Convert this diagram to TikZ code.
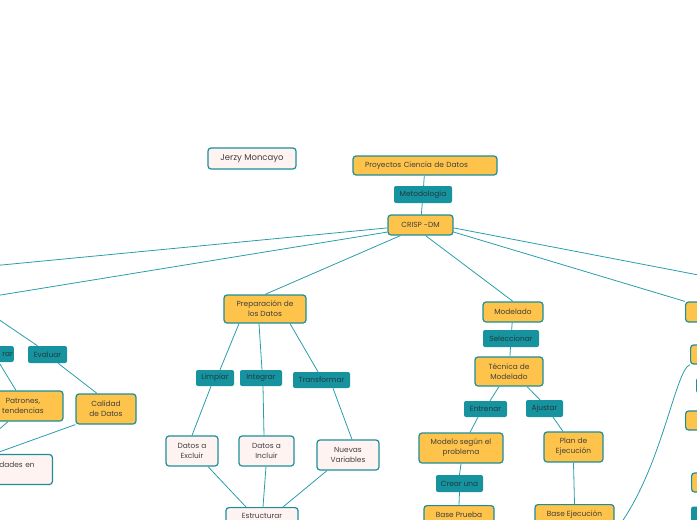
\documentclass[tikz,border=0pt]{standalone}
\usepackage{fontspec}
\setmainfont{Poppins}
\definecolor{mmorange}{HTML}{FEC34A}
\definecolor{mmteal}{HTML}{1C8E9A}
\definecolor{mmlabel}{HTML}{17929F}
\definecolor{mmpink}{HTML}{FFF3F2}
\definecolor{mmline}{HTML}{2A9DAA}
\definecolor{mmtext}{HTML}{3F3F3F}
\definecolor{mmlabeltext}{HTML}{1E3C40}

\begin{document}
\begin{tikzpicture}[x=1pt,y=-1pt,
  topic/.style={draw=mmteal, fill=mmorange, line width=1.2pt, rounded corners=3pt, align=center, text=mmtext, inner sep=1pt, font=\fontsize{7.4}{10}\selectfont},
  leaf/.style={topic, fill=mmpink},
  tag/.style={fill=mmlabel, rounded corners=2pt, align=center, text=mmlabeltext, inner sep=1pt, font=\fontsize{7.4}{10}\selectfont},
  link/.style={draw=mmline, line width=0.8pt}]
\useasboundingbox (0,0) rectangle (697,520);
\clip (0,0) rectangle (697,520);
\node[leaf, minimum width=88pt, minimum height=21pt, font=\fontsize{8.5}{10}\selectfont] (jerzy) at (252,158.5) {Jerzy Moncayo};
\node[topic, minimum width=144pt, minimum height=19pt, text width=120pt, align=left] (proyectos) at (425,165.5) {Proyectos Ciencia de Datos};
\node[tag, minimum width=58pt, minimum height=17pt] (metodologia) at (423,194.5) {Metodología};
\node[topic, minimum width=65pt, minimum height=20pt] (crisp) at (420.5,225) {CRISP -DM};
\node[topic, minimum width=82pt, minimum height=28pt] (preparacion) at (265,309) {Preparación de\\los Datos};
\node[tag, minimum width=38pt, minimum height=16pt] (limpiar) at (215,378) {Limpiar};
\node[tag, minimum width=42pt, minimum height=16pt] (integrar) at (261,378) {Integrar};
\node[tag, minimum width=57pt, minimum height=16pt] (transformar) at (321.5,380) {Transformar};
\node[leaf, minimum width=52pt, minimum height=30pt] (excluir) at (192,451) {Datos a\\Excluir};
\node[leaf, minimum width=55pt, minimum height=30pt] (incluir) at (266.5,451) {Datos a\\Incluir};
\node[leaf, minimum width=62pt, minimum height=30pt] (nuevas) at (348,455) {Nuevas\\Variables};
\node[leaf, minimum width=72pt, inner ysep=6pt, anchor=north] (estructurar) at (262,507) {Estructurar};
\node[topic, minimum width=60pt, minimum height=20pt] (modelado) at (513,312) {Modelado};
\node[tag, minimum width=56pt, minimum height=17pt] (seleccionar) at (511,338.5) {Seleccionar};
\node[topic, minimum width=68pt, minimum height=29pt] (tecnica) at (509,371.5) {Técnica de\\Modelado};
\node[tag, minimum width=43pt, minimum height=16pt] (entrenar) at (485.5,409) {Entrenar};
\node[tag, minimum width=37pt, minimum height=17pt] (ajustar) at (544.5,408.5) {Ajustar};
\node[topic, minimum width=84pt, minimum height=30pt] (modelo) at (461,448) {Modelo según el\\problema};
\node[topic, minimum width=59pt, minimum height=30pt] (plan) at (573.5,447) {Plan de\\Ejecución};
\node[tag, minimum width=47pt, minimum height=17pt] (crear) at (459.5,483.5) {Crear una};
\node[topic, minimum width=70pt, inner ysep=6pt, anchor=north] (baseprueba) at (459,505) {Base Prueba};
\node[topic, minimum width=79pt, inner ysep=6pt, anchor=north] (baseejecucion) at (574.5,504) {Base Ejecución};
\node[tag, minimum width=39pt, minimum height=17pt] (evaluar) at (47.5,354.5) {Evaluar};
\node[tag, minimum height=16pt, text width=28pt, align=right, anchor=east] (explorar) at (14,354) {rar};
\node[topic, minimum width=80pt, minimum height=30pt] (patrones) at (23,406) {Patrones,\\tendencias};
\node[topic, minimum width=60pt, minimum height=30pt] (calidad) at (106,409) {Calidad\\de Datos};
\node[leaf, minimum height=30pt, text width=76pt, align=left, anchor=east] (oportunidades) at (53,469.5) {\hspace*{24pt}dades en\\~};
\node[topic, minimum width=40pt, minimum height=20pt, anchor=west] (rightA) at (685,312) {};
\node[topic, minimum width=40pt, minimum height=19pt, anchor=west] (rightB) at (690,354.5) {};
\node[tag, minimum width=40pt, minimum height=15pt, anchor=west] (rightC) at (696,385.5) {};
\node[topic, minimum width=40pt, minimum height=19pt, anchor=west] (rightD) at (685,420.5) {};
\node[topic, minimum width=40pt, minimum height=19pt, anchor=west] (rightE) at (691,482.5) {};
\node[tag, minimum width=40pt, minimum height=17pt, anchor=west] (rightF) at (691,515) {};
\coordinate (leftTop) at (-40,269);
\coordinate (leftMid) at (-30,300);
\coordinate (patronesDown) at (-12,439);
\coordinate (rightTop) at (740,283);
\coordinate (curveEnd) at (616,530);
\draw[link] (proyectos) -- (metodologia);
\draw[link] (metodologia) -- (crisp);
\draw[link] (crisp.185) -- (leftTop);
\draw[link] (crisp.192) -- (leftMid);
\draw[link] ([xshift=-20pt]crisp.south) -- (preparacion.north);
\draw[link] ([xshift=5pt]crisp.south) -- (modelado.north);
\draw[link] (crisp.348) -- (rightA.north west);
\draw[link] (crisp.355) -- (rightTop);
\draw[link] ([xshift=-26pt]preparacion.south) -- ([xshift=5pt]limpiar.north);
\draw[link] ([xshift=-6pt]preparacion.south) -- ([xshift=1pt]integrar.north);
\draw[link] ([xshift=25pt]preparacion.south) -- ([xshift=-3.5pt]transformar.north);
\draw[link] ([xshift=-4pt]limpiar.south) -- (excluir.north);
\draw[link] ([xshift=2pt]integrar.south) -- ([xshift=-2.5pt]incluir.north);
\draw[link] ([xshift=11.5pt]transformar.south) -- ([xshift=4pt]nuevas.north);
\draw[link] ([xshift=16pt]excluir.south) -- ([xshift=-16pt]estructurar.north);
\draw[link] ([xshift=-0.5pt]incluir.south) -- ([xshift=1pt]estructurar.north);
\draw[link] ([xshift=-21pt]nuevas.south) -- ([xshift=21pt]estructurar.north);
\draw[link] (modelado) -- (seleccionar);
\draw[link] (seleccionar) -- (tecnica);
\draw[link] ([xshift=-10pt]tecnica.south) -- ([xshift=4.5pt]entrenar.north);
\draw[link] ([xshift=18pt]tecnica.south) -- ([xshift=-4.5pt]ajustar.north);
\draw[link] ([xshift=-7.5pt]entrenar.south) -- ([xshift=9pt]modelo.north);
\draw[link] ([xshift=8.5pt]ajustar.south) -- ([xshift=-10.5pt]plan.north);
\draw[link] (modelo.south) -- (crear.north);
\draw[link] (crear.south) -- (baseprueba.north);
\draw[link] (plan.south) -- (baseejecucion.north);
\draw[link] ([xshift=-10pt]evaluar.north) -- (leftMid);
\draw[link] ([xshift=10.5pt]evaluar.south) -- ([xshift=-9pt]calidad.north);
\draw[link] (explorar.south) -- ([xshift=-7pt]patrones.north);
\draw[link] ([xshift=-15pt]patrones.south) -- (patronesDown);
\draw[link] (calidad.south west) -- ([xshift=20pt]oportunidades.north west);
\draw[link] (rightB.south west) .. controls (675,370) and (662,470) .. (curveEnd);
\end{tikzpicture}
\end{document}
